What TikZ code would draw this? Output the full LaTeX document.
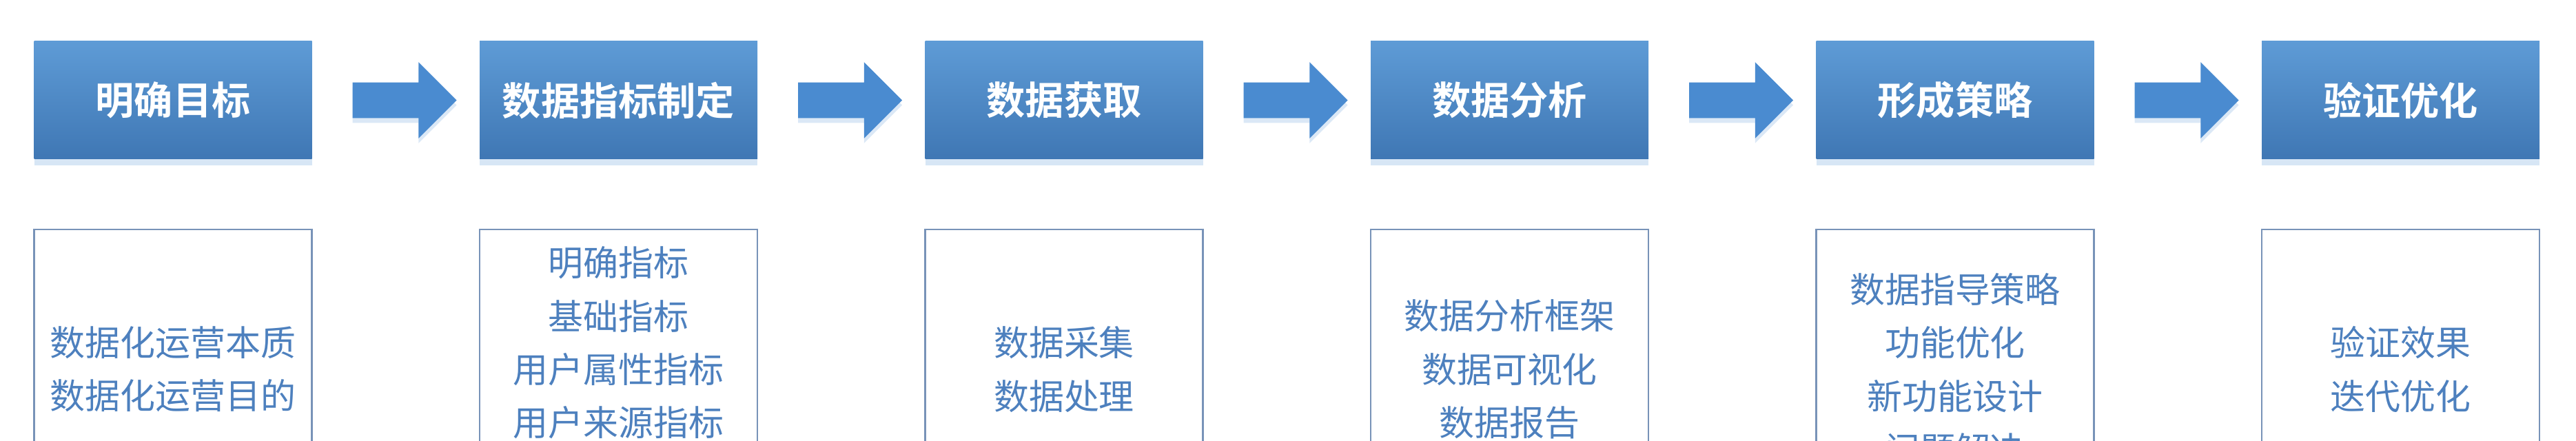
\documentclass[tikz,border=0pt]{standalone}
\usepackage{fontspec}
\usepackage{xcolor}
\usepackage{tikz}
\usetikzlibrary{shapes,shadows,positioning,calc}
\newfontfamily\cjk{Noto Sans CJK SC}[BoldFont=Noto Sans CJK SC Bold]
\definecolor{steplight}{HTML}{5E9BD6}
\definecolor{stepdark}{HTML}{3F77B4}
\definecolor{flowblue}{HTML}{4A8BD0}
\definecolor{edgeblue}{HTML}{7893B8}
\definecolor{notetext}{HTML}{4D80BE}
\tikzset{
  stepbox/.style={rectangle, minimum width=8.06cm, minimum height=3.42cm, outer sep=0pt,
    top color=steplight, bottom color=stepdark, text=white,
    font=\cjk\bfseries\fontsize{32}{38}\selectfont,
    drop shadow={shadow xshift=0pt, shadow yshift=-5pt, fill=steplight, opacity=0.25}},
  notebox/.style={rectangle, draw=edgeblue, line width=1.6pt, minimum width=8.06cm,
    minimum height=8.12cm, outer sep=0pt, align=center, text=notetext,
    font=\cjk\fontsize{29}{44}\selectfont},
  flow/.style={single arrow, fill=flowblue, minimum height=3.02cm,
    single arrow head extend=0.59cm, single arrow tip angle=90,
    inner xsep=0pt, inner ysep=0.51cm, text height=0pt, text depth=0pt,
    drop shadow={shadow xshift=0pt, shadow yshift=-4pt, fill=flowblue, opacity=0.2}}
}

\begin{document}
\begin{tikzpicture}
    \useasboundingbox (0,0) rectangle (74.76,-12.8);
    \clip (0,0) rectangle (74.76,-12.8);
    % Steps
    \node[stepbox] (goal) at (5.02,-2.91) {明确目标};
    \node[stepbox, right=4.87cm of goal] (metric) {数据指标制定};
    \node[stepbox, right=4.87cm of metric] (acquire) {数据获取};
    \node[stepbox, right=4.87cm of acquire] (analyse) {数据分析};
    \node[stepbox, right=4.87cm of analyse] (strategy) {形成策略};
    \node[stepbox, right=4.87cm of strategy] (verify) {验证优化};
    % Arrows between steps
    \node[flow] (f1) at ($(goal.east)!0.5!(metric.west)$) {};
    \node[flow] (f2) at ($(metric.east)!0.5!(acquire.west)$) {};
    \node[flow] (f3) at ($(acquire.east)!0.5!(analyse.west)$) {};
    \node[flow] (f4) at ($(analyse.east)!0.5!(strategy.west)$) {};
    \node[flow] (f5) at ($(strategy.east)!0.5!(verify.west)$) {};
    % Notes under each step
    \node[notebox, below=2.04cm of goal] (goalnote) {数据化运营本质\\数据化运营目的};
    \node[notebox, below=2.04cm of metric] (metricnote) {明确指标\\基础指标\\用户属性指标\\用户来源指标\\\phantom{指标}};
    \node[notebox, below=2.04cm of acquire] (acquirenote) {数据采集\\数据处理};
    \node[notebox, below=2.04cm of analyse] (analysenote) {数据分析框架\\数据可视化\\数据报告};
    \node[notebox, below=2.04cm of strategy] (strategynote) {数据指导策略\\功能优化\\新功能设计\\问题解决};
    \node[notebox, below=2.04cm of verify] (verifynote) {验证效果\\迭代优化};
\end{tikzpicture}
\end{document}
